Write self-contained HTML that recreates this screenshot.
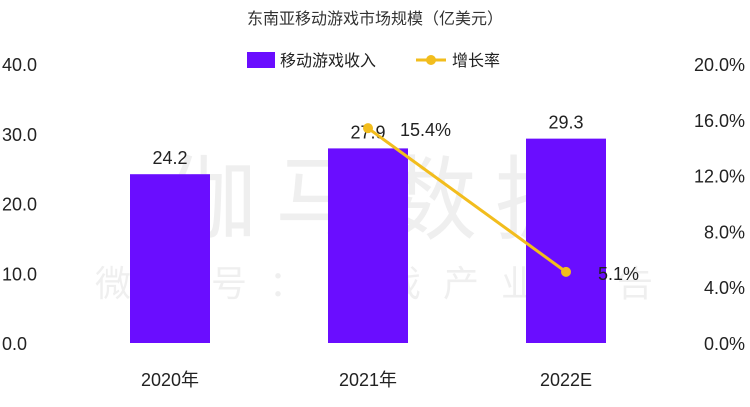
<!DOCTYPE html>
<html><head><meta charset="utf-8"><style>
body{margin:0;background:#fff;}
svg text{font-family:"Liberation Sans","Noto Sans CJK SC",sans-serif;}
</style></head><body>
<svg width="750" height="402" viewBox="0 0 750 402" id="chart">
<text x="375" y="24" text-anchor="middle" font-size="16" fill="#333">东南亚移动游戏市场规模（亿美元）</text>
<g fill="#000" opacity="0.06">
<text x="385" y="232" text-anchor="middle" font-size="92" letter-spacing="18">伽马数据</text>
<text x="385" y="296" text-anchor="middle" font-size="36" letter-spacing="22">微信号：游戏产业报告</text>
</g>
<g>
<rect x="247" y="52" width="28" height="16" fill="#6a0dff"/>
<text x="280" y="66" font-size="16" fill="#222">移动游戏收入</text>
<line x1="416" y1="60" x2="446" y2="60" stroke="#f2bd1d" stroke-width="3"/>
<circle cx="431" cy="60" r="5" fill="#f2bd1d"/>
<text x="452" y="66" font-size="16" fill="#222">增长率</text>
</g>
<g id="left-axis"></g>
<g id="right-axis"></g>
<g id="bars"></g>
<g id="xaxis"></g>
<g id="line"></g>
</svg>
<script>
const categories=["2020年","2021年","2022E"];
const revenue=[24.2,27.9,29.3];
const growth=[null,15.4,5.1];
const leftTicks=[0,10,20,30,40];
const rightTicks=[0,4,8,12,16,20];
const NS="http://www.w3.org/2000/svg";
const y0=343,y1=64;
const yL=v=>y0-(v/40)*(y0-y1);
const yR=v=>y0-(v/20)*(y0-y1);
const xC=i=>170+i*198;
function mk(t,a,p,txt){const e=document.createElementNS(NS,t);for(const k in a)e.setAttribute(k,a[k]);if(txt!=null)e.textContent=txt;p.appendChild(e);return e;}
const la=document.getElementById('left-axis');
leftTicks.forEach(v=>{const e=mk('text',{x:2,y:yL(v)+7,'font-size':18,fill:'#222'},la,v.toFixed(1));

});
const ra=document.getElementById('right-axis');
rightTicks.forEach(v=>{const e=mk('text',{x:745,y:yR(v)+7,'font-size':18,fill:'#222','text-anchor':'end'},ra,v.toFixed(1)+'%');

});
const bg=document.getElementById('bars');
revenue.forEach((v,i)=>{const r=mk('rect',{x:xC(i)-40,y:yL(v),width:80,height:y0-yL(v),fill:'#6a0dff'},bg);


const t=mk('text',{x:xC(i),y:yL(v)-10,'font-size':18,fill:'#222','text-anchor':'middle'},bg,v.toFixed(1));

});
const xa=document.getElementById('xaxis');
categories.forEach((c,i)=>{const t=mk('text',{x:xC(i),y:386,'font-size':18,fill:'#222','text-anchor':'middle'},xa,c);

});
const lg=document.getElementById('line');
const pts=[];growth.forEach((g,i)=>{if(g!=null)pts.push([xC(i),yR(g),g]);});
const pl=mk('polyline',{points:pts.map(p=>p[0]+','+p[1]).join(' '),fill:'none',stroke:'#f2bd1d','stroke-width':3},lg);


pts.forEach(p=>{const c=mk('circle',{cx:p[0],cy:p[1],r:5,fill:'#f2bd1d'},lg);


const t=mk('text',{x:p[0]+32,y:p[1]+8,'font-size':18,fill:'#222'},lg,p[2].toFixed(1)+'%');

});
</script>
</body></html>
